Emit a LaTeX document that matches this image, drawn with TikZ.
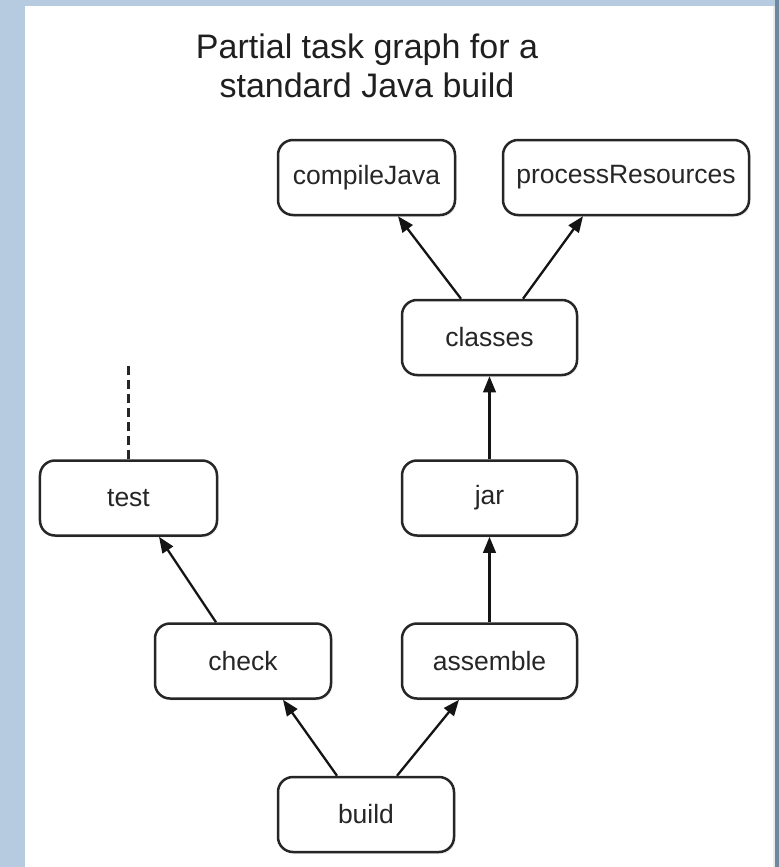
\documentclass[tikz,border=0pt]{standalone}
\usepackage{fontspec}
\setmainfont{Liberation Sans}
\usetikzlibrary{arrows.meta,calc,shadows}

\definecolor{deskblue}{HTML}{B6CBE0}
\definecolor{deskdark}{HTML}{6E899F}
\definecolor{inkgray}{HTML}{262626}

\tikzset{
  task/.style={
    draw=inkgray, line width=2.5bp, fill=white,
    rounded corners=15bp, minimum height=75bp, inner sep=0pt,
    text=inkgray, font=\fontsize{26.5bp}{31bp}\selectfont,
    drop shadow={opacity=0.12, shadow xshift=1.5bp, shadow yshift=-2bp}
  },
  dep/.style={
    draw=black!92, line width=2.3bp,
    -{Triangle[length=16bp,width=12.5bp]}
  },
  pending/.style={
    draw=inkgray, line width=2.5bp, dash pattern=on 9bp off 5bp
  }
}

\begin{document}
\begin{tikzpicture}[x=1bp, y=-1bp]
  % page backdrop and white panel
  \useasboundingbox (0,0) rectangle (779,867);
  \fill[deskblue] (0,0) rectangle (779,867);
  \fill[deskdark] (775,0) rectangle (779,867);
  \fill[black!8] (773,6) rectangle (775,867);
  \fill[white] (25,6) rectangle (773,867);

  % title
  \node[align=center, text=black!88, font=\fontsize{34bp}{39bp}\selectfont]
    (title) at (367,66) {Partial task graph for a\\standard Java build};

  % tasks
  \node[task, minimum width=177bp] (compile)   at (366.5,177.5) {compileJava};
  \node[task, minimum width=246bp] (resources) at (626,177.5)   {processResources};
  \node[task, minimum width=175bp] (classes)   at (489.5,337.5) {classes};
  \node[task, minimum width=177bp] (test)      at (128.5,498)   {test};
  \node[task, minimum width=175bp] (jar)       at (489.5,498)   {jar};
  \node[task, minimum width=176bp] (check)     at (243,661)     {check};
  \node[task, minimum width=175bp] (assemble)  at (489.5,661)   {assemble};
  \node[task, minimum width=176bp] (build)     at (366,814.5)   {build};

  % open end above test
  \coordinate (testup) at (128.5,365);
  \draw[pending] (test.north) -- (testup);

  % dependencies
  \draw[dep] ($(classes.north)+(-28.5,0)$) -- ($(compile.south)+(31.5,0)$);
  \draw[dep] ($(classes.north)+(33.5,0)$)  -- ($(resources.south)+(-43,0)$);
  \draw[dep] (jar.north) -- (classes.south);
  \draw[dep] (assemble.north) -- (jar.south);
  \draw[dep] ($(check.north)+(-27,0)$) -- ($(test.south)+(30.5,0)$);
  \draw[dep] ($(build.north)+(-29,0)$) -- ($(check.south)+(40,0)$);
  \draw[dep] ($(build.north)+(31,0)$)  -- ($(assemble.south)+(-30.5,0)$);
\end{tikzpicture}
\end{document}
